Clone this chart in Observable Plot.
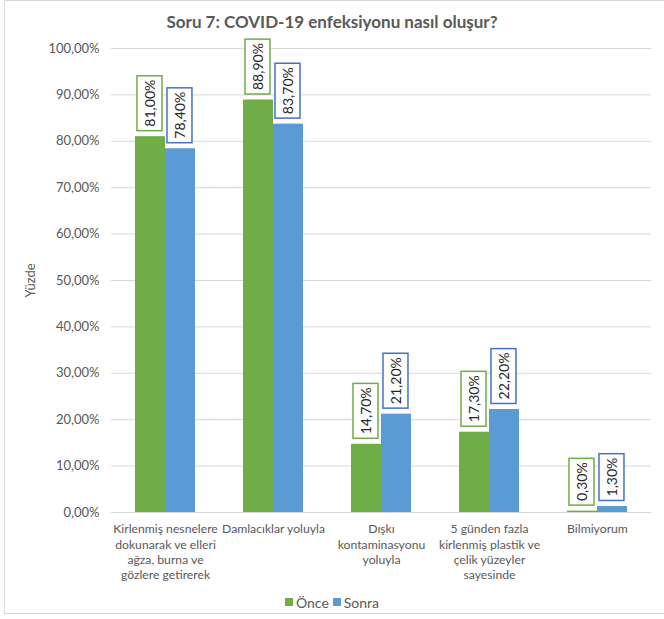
<!DOCTYPE html>
<html>
<head>
<meta charset="utf-8">
<script src="https://cdn.jsdelivr.net/npm/d3@7"></script>
<script src="https://cdn.jsdelivr.net/npm/@observablehq/plot@0.6"></script>
<style>
  html, body { margin: 0; padding: 0; background: #fff; overflow: hidden; }
  #wrap { position: relative; width: 664px; height: 619px; font-family: Lato, "Open Sans", sans-serif; }
  #frame { position: absolute; left: 4px; top: 0px; width: 700px; height: 614px; border: 1px solid #d9d9d9; box-sizing: border-box; }
  #title { position: relative; height: 38px; line-height: 44px; text-align: center; font-size: 17px; font-weight: bold; color: #595959; }
  #chart { position: relative; height: 552px; }
  #legend { position: relative; height: 29px; padding-top: 2px; box-sizing: border-box; text-align: center; font-size: 14px; color: #595959; }
  .key { display: inline-flex; align-items: center; margin: 0 2px; }
  .sw { display: inline-block; width: 8px; height: 8px; margin-right: 3px; }
</style>
</head>
<body>
<div id="wrap">
  <div id="frame"></div>
  <div id="title">Soru 7: COVID-19 enfeksiyonu nasıl oluşur?</div>
  <div id="chart"></div>
  <div id="legend"></div>
</div>
<script>
const categories = [
  "Kirlenmiş nesnelere dokunarak ve elleri ağza, burna ve gözlere getirerek",
  "Damlacıklar yoluyla",
  "Dışkı kontaminasyonu yoluyla",
  "5 günden fazla kirlenmiş plastik ve çelik yüzeyler sayesinde",
  "Bilmiyorum"
];
const categoryLabels = [
  "Kirlenmiş nesnelere\ndokunarak ve elleri\nağza, burna ve\ngözlere getirerek",
  "Damlacıklar yoluyla",
  "Dışkı\nkontaminasyonu\nyoluyla",
  "5 günden fazla\nkirlenmiş plastik ve\nçelik yüzeyler\nsayesinde",
  "Bilmiyorum"
];
const series = ["Önce", "Sonra"];
const onceValues = [81.0, 88.9, 14.7, 17.3, 0.3];
const sonraValues = [78.4, 83.7, 21.2, 22.2, 1.3];
const yTicks = [0, 10, 20, 30, 40, 50, 60, 70, 80, 90, 100];
const colors = ["#70AD47", "#5B9BD5"];
const boxColors = ["#70AD47", "#4472C4"];

const data = [];
categories.forEach((c, i) => {
  data.push({cat: c, series: series[0], value: onceValues[i]});
  data.push({cat: c, series: series[1], value: sonraValues[i]});
});
const labelOf = new Map(categories.map((c, i) => [c, categoryLabels[i]]));
const fmt = v => v.toFixed(2).replace(".", ",") + "%";

const plot = Plot.plot({
  width: 664,
  height: 552,
  marginLeft: 109,
  marginRight: 12,
  marginTop: 10,
  marginBottom: 78,
  style: {fontFamily: "Lato, 'Open Sans', sans-serif", fontSize: "12px", color: "#595959", background: "transparent"},
  fx: {domain: categories, padding: 0, label: null},
  x: {domain: series, paddingInner: 0, paddingOuter: 0.77, axis: null},
  y: {domain: [0, 100], label: null},
  color: {domain: series, range: colors},
  marks: [
    Plot.gridY(yTicks, {stroke: "#d9d9d9", strokeOpacity: 1}),
    Plot.axisY(yTicks, {tickSize: 0, tickPadding: 12, tickFormat: fmt, fontSize: 13, fill: "#595959",
      label: "Yüzde", labelAnchor: "center", labelArrow: "none", labelOffset: 86}),
    Plot.axisFx({anchor: "bottom", tickSize: 0, tickPadding: 10, lineHeight: 1.25, fontSize: 12.2, fill: "#595959",
      tickFormat: d => labelOf.get(d), label: null}),
    Plot.barY(data, {fx: "cat", x: "series", y: "value", fill: "series", inset: 0}),
    Plot.ruleY([0], {stroke: "#d9d9d9"}),
    Plot.text(data.filter(d => d.series === series[0]), {fx: "cat", x: "series", y: "value", text: d => fmt(d.value),
      rotate: -90, textAnchor: "start", dy: -10, fontSize: 14, fill: "#262626", ariaDescription: "lab-once"}),
    Plot.text(data.filter(d => d.series === series[1]), {fx: "cat", x: "series", y: "value", text: d => fmt(d.value),
      rotate: -90, textAnchor: "start", dy: -10, fontSize: 14, fill: "#262626", ariaDescription: "lab-sonra"})
  ]
});
document.getElementById("chart").appendChild(plot);

// Draw boxes around the value labels
[["lab-once", boxColors[0]], ["lab-sonra", boxColors[1]]].forEach(([desc, col]) => {
  d3.select(plot).selectAll(`g[aria-description="${desc}"] text`).each(function() {
    const b = this.getBBox();
    const padX = 4, padY = 5;
    const r = document.createElementNS("http://www.w3.org/2000/svg", "rect");
    r.setAttribute("x", b.x - padX);
    r.setAttribute("y", b.y - padY + 1);
    r.setAttribute("width", b.width + 2 * padX);
    r.setAttribute("height", b.height + 2 * padY - 2);
    r.setAttribute("fill", "#fff");
    r.setAttribute("stroke", col);
    r.setAttribute("stroke-width", 1.5);
    const t = this.getAttribute("transform");
    if (t) r.setAttribute("transform", t);
    this.parentNode.insertBefore(r, this);
  });
});

// Legend
const legend = d3.select("#legend");
series.forEach((s, i) => {
  const k = legend.append("span").attr("class", "key");
  k.append("span").attr("class", "sw").style("background", colors[i]);
  k.append("span").text(s);
});
</script>
</body>
</html>
